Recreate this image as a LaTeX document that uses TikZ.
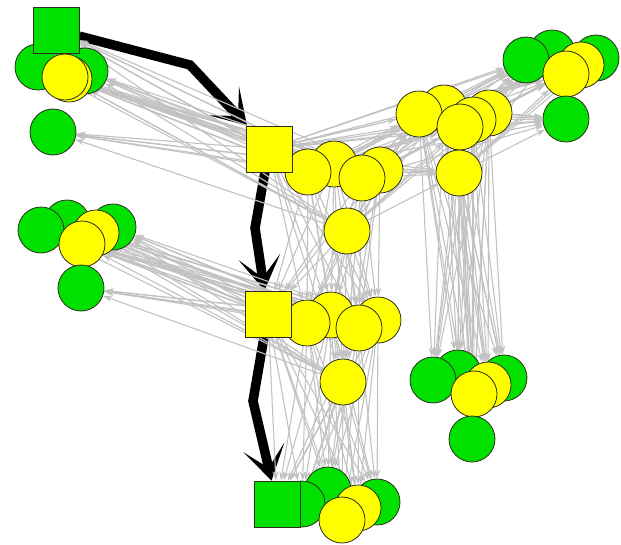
\documentclass[tikz,border=0pt]{standalone}
\usetikzlibrary{arrows.meta}
\pgfdeclarelayer{edges}
\pgfsetlayers{edges,main}
\definecolor{ngreen}{RGB}{0,225,0}
\definecolor{nyellow}{RGB}{255,255,0}
\definecolor{vborder}{RGB}{45,45,30}
\definecolor{edgegray}{RGB}{194,194,194}
\begin{document}
\begin{tikzpicture}[x=1pt,y=-1pt,
  vtx/.style={circle,draw=vborder,line width=0.8pt,minimum size=46pt,inner sep=0pt},
  gv/.style={vtx,fill=ngreen},
  yv/.style={vtx,fill=nyellow},
  sqv/.style={rectangle,draw=vborder,line width=0.8pt,minimum size=46pt,inner sep=0pt},
  gsq/.style={sqv,fill=ngreen},
  ysq/.style={sqv,fill=nyellow},
  link/.style={draw=edgegray,line width=1.1pt,-{Stealth[length=9pt,width=6pt]}},
  route/.style={draw=black,line width=9.5pt,-{Stealth[length=34pt,width=42pt,inset=21pt]}}]
\useasboundingbox (0,0) rectangle (621,544);

% group A (top left)
\node[gv] (a2) at (38,67) {};
\node[gv] (a3) at (85,71) {};
\node[yv] (a4) at (69,79) {};
\node[yv] (a5) at (65,77) {};
\node[gsq] (a1) at (56,30) {};
\node[gv] (a6) at (53,132) {};

% group B (left)
\node[gv] (b2) at (67,223) {};
\node[gv] (b1) at (41,230) {};
\node[gv] (b3) at (113,227) {};
\node[yv] (b4) at (96,233) {};
\node[yv] (b5) at (82,244) {};
\node[gv] (b6) at (81,288) {};

% group C and first hub
\node[yv] (c2) at (334,164) {};
\node[yv] (c1) at (308,172) {};
\node[yv] (c3) at (380,170) {};
\node[yv] (c4) at (362,178) {};
\node[yv] (c5) at (347,231) {};
\node[ysq] (y1) at (269,149) {};

% group D
\node[yv] (d2) at (444,108) {};
\node[yv] (d1) at (419,114) {};
\node[yv] (d3) at (489,113) {};
\node[yv] (d4) at (473,120) {};
\node[yv] (d5) at (460,127) {};
\node[yv] (d6) at (459,173) {};

% group E (top right)
\node[gv] (e2) at (552,53) {};
\node[gv] (e1) at (526,60) {};
\node[gv] (e3) at (596,58) {};
\node[yv] (e4) at (581,65) {};
\node[yv] (e5) at (566,74) {};
\node[gv] (e6) at (566,119) {};

% group F and second hub
\node[yv] (f2) at (331,315) {};
\node[yv] (f1) at (307,323) {};
\node[yv] (f3) at (378,320) {};
\node[yv] (f4) at (359,328) {};
\node[yv] (f5) at (343,382) {};
\node[ysq] (y2) at (268,314) {};

% group G
\node[gv] (g2) at (458,373) {};
\node[gv] (g1) at (433,380) {};
\node[gv] (g3) at (504,378) {};
\node[yv] (g4) at (488,385) {};
\node[yv] (g5) at (474,394) {};
\node[gv] (g6) at (472,439) {};

% group H (bottom)
\node[gv] (h2) at (328,490) {};
\node[gv] (h1) at (302,504) {};
\node[gsq] (s2) at (277,504) {};
\node[gv] (h3) at (377,502) {};
\node[yv] (h4) at (358,508) {};
\node[yv] (h5) at (342,520) {};

% bends of the highlighted route
\coordinate (k1) at (190,65);
\coordinate (k2) at (255,228);
\coordinate (k3) at (253,401);

\begin{pgfonlayer}{edges}
  % highlighted route
  \draw[route] (a1) -- (k1) -- (y1);
  \draw[route] (y1) -- (k2) -- (y2);
  \draw[route] (y2) -- (k3) -- (s2);
  % ordinary links
  \foreach \s in {y1,c1,c2,c3,c4,c5}
    \foreach \t in {a1,a2,a3,a4,a5,a6}
      \draw[link] (\s) -- (\t);
  \foreach \s in {y2,f1,f2,f3,f4,f5}
    \foreach \t in {b1,b2,b3,b4,b5,b6}
      \draw[link] (\s) -- (\t);
  \foreach \s in {y1,c1,c2,c3,c4,c5}
    \foreach \t in {d1,d2,d3,d4,d5,d6}
      \draw[link] (\s) -- (\t);
  \foreach \s in {y1,c2,c4}
    \foreach \t in {e1,e2,e5,e6}
      \draw[link] (\s) -- (\t);
  \foreach \s in {d1,d2,d3,d4,d5,d6}
    \foreach \t in {e1,e2,e3,e4,e5,e6}
      \draw[link] (\s) -- (\t);
  \foreach \s in {d1,d2,d3,d4,d5,d6}
    \foreach \t in {g1,g2,g3,g4,g5,g6}
      \draw[link] (\s) -- (\t);
  \foreach \s in {y1,c1,c2,c3,c4,c5}
    \foreach \t in {f1,f2,f3,f4,f5}
      \draw[link] (\s) -- (\t);
  \foreach \s in {c1,c2,c3,c4,c5}
    \draw[link] (\s) -- (y2);
  \foreach \s in {y2,f1,f2,f3,f4,f5}
    \foreach \t in {s2,h1,h2,h3,h4,h5}
      \draw[link] (\s) -- (\t);
\end{pgfonlayer}
\end{tikzpicture}
\end{document}
